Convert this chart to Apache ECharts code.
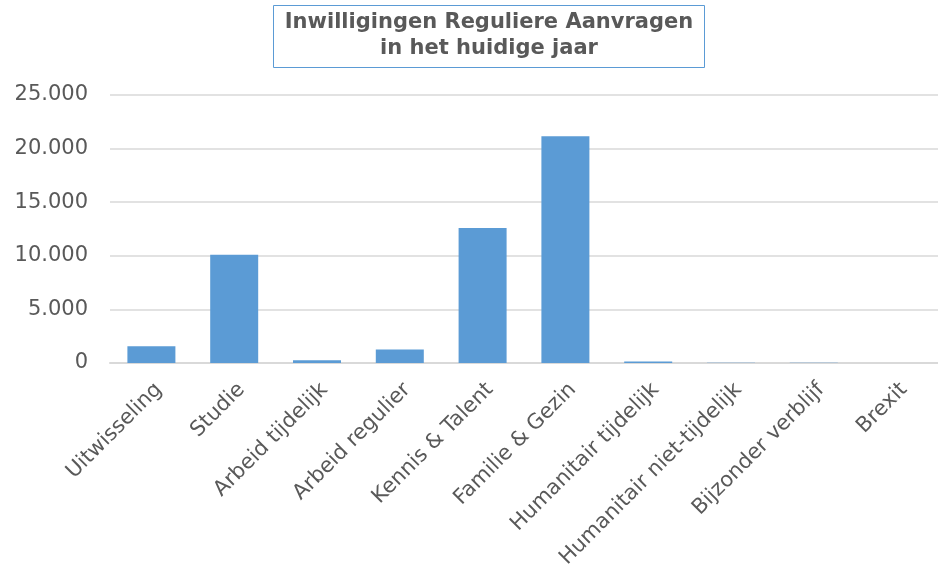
<!DOCTYPE html>
<html><head><meta charset="utf-8">
<script src="https://cdn.jsdelivr.net/npm/echarts@6/dist/echarts.min.js"></script>
<style>html,body{margin:0;padding:0;background:#fff}#c{width:938px;height:573px}</style>
</head><body><div id="c"></div>
<script>
const categories = ["Uitwisseling","Studie","Arbeid tijdelijk","Arbeid regulier","Kennis & Talent","Familie & Gezin","Humanitair tijdelijk","Humanitair niet-tijdelijk","Bijzonder verblijf","Brexit"];
const values = [1560, 10100, 250, 1250, 12600, 21150, 150, 20, 15, 10];
const titleLines = ["Inwilligingen Reguliere Aanvragen", "in het huidige jaar"];
const fmt = v => String(v).replace(/\B(?=(\d{3})+(?!\d))/g, ".");
const chart = echarts.init(document.getElementById('c'));
const titleText = titleLines.map(t => '{a|' + t + '}').join('\n');
chart.setOption({
  animation:false,
  title:{text:titleText, left:273, top:5,
    borderColor:'#5b9bd5', borderWidth:1, padding:[5,8,6,8],
    textStyle:{fontFamily:'DejaVu Sans', fontWeight:'bold', fontSize:21, color:'#595959', lineHeight:26,
      rich:{a:{width:416, align:'center', fontFamily:'DejaVu Sans', fontWeight:'bold', fontSize:21, color:'#595959', lineHeight:26}}}},
  grid:{left:110, width:842, top:95, bottom:210},
  xAxis:{type:'category', data:categories,
    axisLine:{lineStyle:{color:'#d9d9d9', width:2}}, axisTick:{show:false},
    axisLabel:{rotate:45, interval:0, verticalAlign:'top', fontFamily:'DejaVu Sans', fontSize:21, color:'#595959', margin:16}},
  yAxis:{type:'value', min:0, max:25000, interval:5000,
    axisLine:{show:false}, axisTick:{show:false},
    splitLine:{lineStyle:{color:'#d9d9d9', width:1.5}},
    axisLabel:{formatter:fmt, fontFamily:'DejaVu Sans', fontSize:21, color:'#595959', margin:22}},
  series:[{type:'bar', data:values, barWidth:48, itemStyle:{color:'#5b9bd5'}}]
});
</script></body></html>
